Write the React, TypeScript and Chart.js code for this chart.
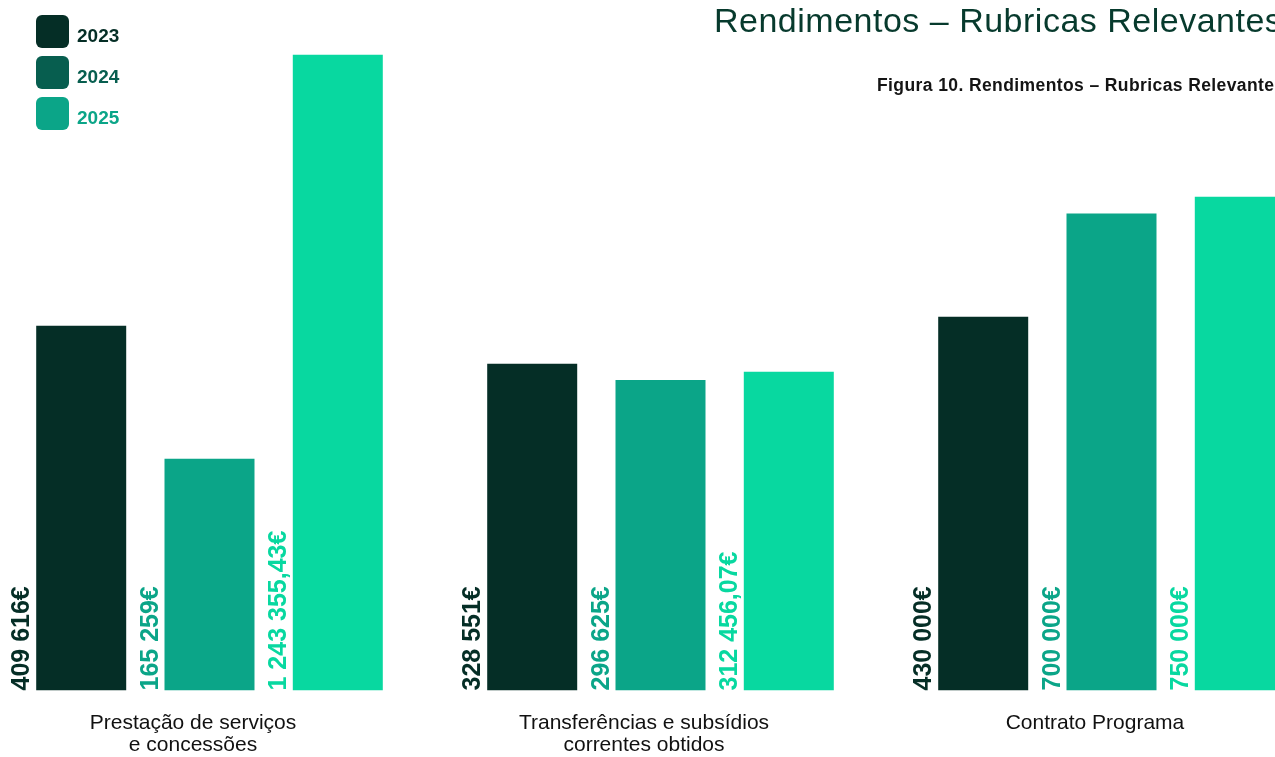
import React, { useEffect, useRef } from 'react';
import { Chart, registerables, LinearScale } from 'chart.js';

Chart.register(...registerables);

// The source graphic sizes its bars roughly by the square root of the value,
// so the value axis is a square-root scale built on Chart.js's linear scale.
class SqrtScale extends LinearScale {
  static id = 'sqrt';
  static defaults = LinearScale.defaults;
  getPixelForValue(value: number) {
    const lo = Math.sqrt(Math.max(0, this.min));
    const hi = Math.sqrt(Math.max(0, this.max));
    const v = Math.sqrt(Math.max(0, value));
    return this.getPixelForDecimal((v - lo) / (hi - lo));
  }
  getValueForPixel(pixel: number) {
    const lo = Math.sqrt(Math.max(0, this.min));
    const hi = Math.sqrt(Math.max(0, this.max));
    const s = lo + this.getDecimalForPixel(pixel) * (hi - lo);
    return s * s;
  }
}
Chart.register(SqrtScale);

// ---- data ----
const categories = [
  ['Prestação de serviços', 'e concessões'],
  ['Transferências e subsídios', 'correntes obtidos'],
  ['Contrato Programa'],
];
const years = ['2023', '2024', '2025'];
const values2023 = [409616, 328551, 430000];
const values2024 = [165259, 296625, 700000];
const values2025 = [1243355.43, 312456.07, 750000];
const seriesValues = [values2023, values2024, values2025];
const barColors = ['#052e26', '#0ba588', '#08d8a0'];
const valueLabelColors = ['#052e26', '#0ba588', '#08d8a0'];
const legendColors = ['#052e26', '#075e4f', '#0ba588'];
const yMax = 1400000;

const title = 'Rendimentos – Rubricas Relevantes';
const subtitle = 'Figura 10. Rendimentos – Rubricas Relevantes';

const FONT = "'Liberation Sans', Arial, Helvetica, sans-serif";

function formatEuro(v: number): string {
  const [intPart, decPart] = v.toFixed(2).split('.');
  const grouped = intPart.replace(/\B(?=(\d{3})+(?!\d))/g, ' ');
  return (decPart === '00' ? grouped : grouped + ',' + decPart) + '€';
}

const valueLabelPlugin = {
  id: 'valueLabels',
  afterDatasetsDraw(chart: any) {
    const ctx = chart.ctx;
    chart.data.datasets.forEach((ds: any, i: number) => {
      const meta = chart.getDatasetMeta(i);
      meta.data.forEach((bar: any, j: number) => {
        const { x, width, base } = bar.getProps(['x', 'width', 'base'], true);
        const left = x - width / 2;
        ctx.save();
        ctx.translate(left - 7, base);
        ctx.rotate(-Math.PI / 2);
        ctx.font = `bold 25px ${FONT}`;
        ctx.fillStyle = valueLabelColors[i];
        ctx.textAlign = 'left';
        ctx.textBaseline = 'alphabetic';
        ctx.fillText(formatEuro(ds.data[j]), 0, 0);
        ctx.restore();
      });
    });
  },
};

export default function App() {
  const canvasRef = useRef<HTMLCanvasElement | null>(null);

  useEffect(() => {
    if (!canvasRef.current) return;
    const chart = new Chart(canvasRef.current, {
      type: 'bar',
      data: {
        labels: categories,
        datasets: years.map((y, i) => ({
          label: y,
          data: seriesValues[i],
          backgroundColor: barColors[i],
          borderWidth: 0,
          categoryPercentage: 0.8534,
          barPercentage: 0.7015,
        })),
      },
      options: {
        responsive: false,
        maintainAspectRatio: false,
        animation: false,
        layout: { padding: { left: 24, right: 43, top: 16, bottom: 1.5 } },
        plugins: {
          legend: { display: false },
          title: { display: false },
          tooltip: { enabled: false },
        },
        scales: {
          x: {
            type: 'category',
            offset: true,
            grid: { display: false, drawTicks: false },
            border: { display: false },
            ticks: {
              color: '#111111',
              font: { family: FONT, size: 21, lineHeight: 22 / 21 },
              padding: 21.5,
              labelOffset: -16.5,
              autoSkip: false,
              maxRotation: 0,
              minRotation: 0,
            },
          },
          y: {
            type: 'sqrt',
            display: false,
            min: 0,
            max: yMax,
          },
        },
      },
      plugins: [valueLabelPlugin],
    } as any);
    return () => chart.destroy();
  }, []);

  return (
    <div
      style={{
        position: 'absolute',
        left: 0,
        top: 0,
        width: 1275,
        height: 757,
        overflow: 'hidden',
        background: '#ffffff',
      }}
    >
      <canvas
        ref={canvasRef}
        width={1420}
        height={779}
        style={{ position: 'absolute', left: -40, top: 0 }}
      />
      {years.map((y, i) => (
        <div
          key={y}
          style={{
            position: 'absolute',
            left: 36,
            top: 15 + i * 41,
            height: 33,
            display: 'flex',
            alignItems: 'flex-start',
          }}
        >
          <div
            style={{
              width: 33,
              height: 33,
              borderRadius: 6,
              background: legendColors[i],
            }}
          />
          <span
            style={{
              marginLeft: 8,
              fontFamily: FONT,
              fontWeight: 'bold',
              fontSize: 19,
              lineHeight: '33px',
              position: 'relative',
              top: 4,
              color: legendColors[i],
            }}
          >
            {y}
          </span>
        </div>
      ))}
      <div
        style={{
          position: 'absolute',
          left: 714,
          top: 3,
          fontFamily: FONT,
          fontSize: 34,
          lineHeight: '34px',
          letterSpacing: '0.5px',
          whiteSpace: 'nowrap',
          color: '#073a2d',
        }}
      >
        {title}
      </div>
      <div
        style={{
          position: 'absolute',
          left: 877,
          top: 74.5,
          fontFamily: FONT,
          fontWeight: 'bold',
          fontSize: 17.5,
          lineHeight: '20px',
          letterSpacing: '0.4px',
          whiteSpace: 'nowrap',
          color: '#141414',
        }}
      >
        {subtitle}
      </div>
    </div>
  );
}
